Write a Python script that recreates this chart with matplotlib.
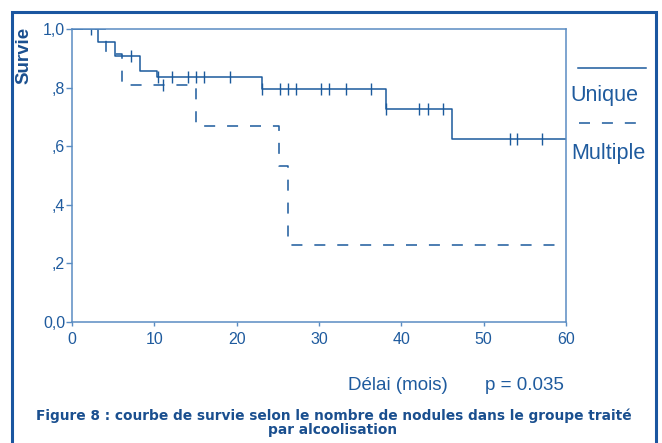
import matplotlib
matplotlib.use("Agg")
import matplotlib.pyplot as plt
from matplotlib.lines import Line2D
from matplotlib.patches import Rectangle

# survival steps (months, proportion surviving)
uni_t = [0, 3.2, 5.2, 8.3, 10.3, 23.1, 38.1, 46.1, 60]
uni_s = [1.0, 0.957, 0.909, 0.858, 0.835, 0.796, 0.727, 0.624, 0.624]
uni_cens_t = [2.3, 7.2, 10.4, 12.1, 14.1, 15.1, 16.0, 19.2,
              23.1, 25.3, 26.2, 27.2, 30.2, 31.2, 33.3, 36.3,
              38.1, 42.2, 43.2, 45.1, 53.2, 54.0, 57.1]
uni_cens_s = [1.0, 0.909, 0.835, 0.835, 0.835, 0.835, 0.835, 0.835,
              0.796, 0.796, 0.796, 0.796, 0.796, 0.796, 0.796, 0.796,
              0.727, 0.727, 0.727, 0.727, 0.624, 0.624, 0.624]

mul_t = [0, 4.1, 6.1, 15.1, 25.1, 26.2, 60]
mul_s = [1.0, 0.914, 0.809, 0.670, 0.533, 0.262, 0.262]
mul_cens_t = [11.1]
mul_cens_s = [0.809]

xticks = [0, 10, 20, 30, 40, 50, 60]
yticks = [0.0, 0.2, 0.4, 0.6, 0.8, 1.0]
ylabels = ["0,0", ",2", ",4", ",6", ",8", "1,0"]

W, H = 662, 443
curve_c = "#1b5a9c"
spine_c = "#5a8cc2"
text_c = "#1f5b9e"
dark_c = "#1a4f8f"
dash = (0, (7.2, 7.8))

plt.rcParams["font.family"] = ["Liberation Sans", "DejaVu Sans"]

fig = plt.figure(figsize=(W / 100, H / 100), dpi=100)
ax = fig.add_axes([72 / W, 1 - 322 / H, (566 - 72) / W, (322 - 29) / H])

ax.step(uni_t, uni_s, where="post", color=curve_c, lw=1.1)
ax.step(mul_t, mul_s, where="post", color=curve_c, lw=1.1, linestyle=dash)
ax.plot(uni_cens_t, uni_cens_s, "|", color=curve_c, ms=8.5, mew=1.0)
ax.plot(mul_cens_t, mul_cens_s, "|", color=curve_c, ms=8.5, mew=1.0)

ax.set_xlim(0, 60)
ax.set_ylim(0, 1)
ax.set_xticks(xticks)
ax.set_xticklabels([str(v) for v in xticks])
ax.set_yticks(yticks)
ax.set_yticklabels(ylabels)
for s in ax.spines.values():
    s.set_color(spine_c)
    s.set_linewidth(1.1)
ax.tick_params(axis="both", colors=spine_c, labelcolor=text_c, labelsize=11.5,
               width=1.0)
ax.tick_params(axis="y", length=4, pad=1)
ax.tick_params(axis="x", length=3, pad=4)

def fx(x):
    return x / W

def fy(y):
    return 1 - y / H

# legend drawn beside the plot
fig.add_artist(Line2D([fx(578), fx(646)], [fy(68), fy(68)], color=curve_c, lw=1.1))
fig.add_artist(Line2D([fx(579), fx(646)], [fy(122.5), fy(122.5)], color=curve_c,
                      lw=1.1, linestyle=dash))
fig.text(fx(570.5), fy(100.5), "Unique", color=text_c, fontsize=15.5, va="baseline")
fig.text(fx(571.5), fy(159), "Multiple", color=text_c, fontsize=15.5, va="baseline")

fig.text(fx(24), fy(55), "Survie", color=dark_c, fontsize=13.5, fontweight="bold",
         rotation=90, ha="center", va="center")
fig.text(fx(397.5), fy(390), "Délai (mois)", color=text_c, fontsize=13.5,
         ha="center", va="baseline")
fig.text(fx(524), fy(390), "p = 0.035", color=text_c, fontsize=13.5,
         ha="center", va="baseline")

fig.text(fx(334), fy(420), "Figure 8 : courbe de survie selon le nombre de nodules dans le groupe traité",
         color=dark_c, fontsize=9.9, fontweight="bold", family="DejaVu Sans",
         ha="center", va="baseline")
fig.text(fx(333), fy(434), "par alcoolisation", color=dark_c, fontsize=9.9,
         fontweight="bold", family="DejaVu Sans", ha="center", va="baseline")

# outer frame
fig.add_artist(Rectangle((fx(12), fy(460)), fx(656 - 12), (460 - 12) / H,
                         fill=False, edgecolor="#1a56a0", lw=2.2))

fig.savefig("out.png", dpi=100)
